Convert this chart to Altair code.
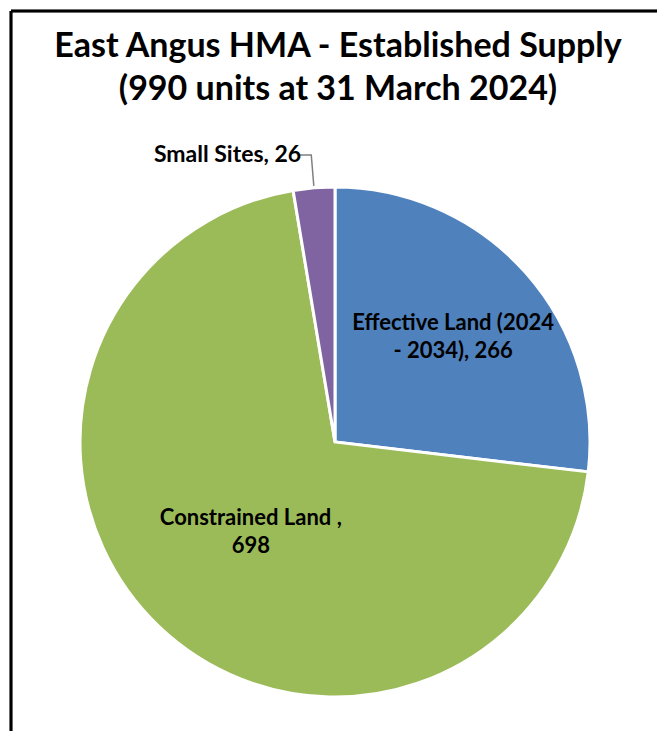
import math
import pandas as pd
import altair as alt

# ---- data ----
categories = ["Effective Land (2024 - 2034)", "Constrained Land", "Small Sites"]
values = [266, 698, 26]
colors = ["#4F81BD", "#9BBB59", "#8064A2"]
label_lines = [
    ["Effective Land (2024", "- 2034), 266"],
    ["Constrained Land ,", "698"],
    ["Small Sites, 26"],
]
title_lines = ["East Angus HMA - Established Supply", "(990 units at 31 March 2024)"]

# ---- layout constants ----
W, H = 657, 731
CX, CY, R = 335, 442, 255
FONT = "Lato"

total = sum(values)
mids = []
acc = 0
for v in values:
    mids.append(acc + v / 2)
    acc += v

df = pd.DataFrame({
    "category": categories,
    "value": values,
    "order": list(range(len(values))),
    "mid": mids,
    "label": ["\n".join(l) for l in label_lines],
})

theta_mid = alt.Theta("mid:Q", stack=False, scale=alt.Scale(domain=[0, total]))

pie = alt.Chart(df).mark_arc(radius=R, stroke="white", strokeWidth=3).encode(
    theta=alt.Theta("value:Q", stack=True),
    order=alt.Order("order:Q"),
    color=alt.Color("category:N", scale=alt.Scale(domain=categories, range=colors), legend=None),
    x=alt.value(CX),
    y=alt.value(CY),
)


def label_layer(cat, radius, size=22, **kw):
    return alt.Chart(df).transform_filter(alt.datum.category == cat).mark_text(
        radius=radius, font=FONT, fontSize=size, fontWeight="bold", lineBreak="\n",
        lineHeight=28, color="black", **kw
    ).encode(
        theta=theta_mid,
        text="label:N",
        x=alt.value(CX),
        y=alt.value(CY),
    )


lab_eff = label_layer(categories[0], 158, dy=-14)
lab_con = label_layer(categories[1], 122, dy=-12)
lab_small = label_layer(categories[2], 289, size=23, align="right", dx=-10, dy=1)

# leader line for the small slice, derived from its mid-angle
a = mids[2] / total * 2 * math.pi
p1 = (CX + 257 * math.sin(a), CY - 257 * math.cos(a))
p2 = (CX + 288 * math.sin(a), CY - 288 * math.cos(a))
p3 = (p2[0] - 12, p2[1])
leader_df = pd.DataFrame({"x": [p1[0], p2[0], p3[0]], "y": [p1[1], p2[1], p3[1]], "i": [0, 1, 2]})
leader = alt.Chart(leader_df).mark_line(color="#808080", strokeWidth=1.5).encode(
    x=alt.X("x:Q", scale=None, axis=None),
    y=alt.Y("y:Q", scale=None, axis=None),
    order="i:Q",
)

title_df = pd.DataFrame({"title": ["\n".join(title_lines)]})
title = alt.Chart(title_df).mark_text(
    font=FONT, fontSize=34, fontWeight="bold", lineBreak="\n", lineHeight=43,
    baseline="alphabetic", align="center", color="black"
).encode(text="title:N", x=alt.value(338), y=alt.value(57))

frame_left = alt.Chart(df).mark_rule(color="black", strokeWidth=2.5).encode(
    x=alt.value(11), y=alt.value(11), y2=alt.value(H)
)
frame_top = alt.Chart(df).mark_rule(color="black", strokeWidth=2.5).encode(
    x=alt.value(11), x2=alt.value(W), y=alt.value(11)
)

chart = alt.layer(
    pie, leader, lab_eff, lab_con, lab_small, title, frame_left, frame_top
).resolve_scale(theta="independent", color="independent").properties(
    width=W, height=H, autosize=alt.AutoSizeParams(type="none"), padding=0, background="white"
).configure_view(stroke=None)

chart.save("out.html", embed_options={"renderer": "svg", "actions": False})
